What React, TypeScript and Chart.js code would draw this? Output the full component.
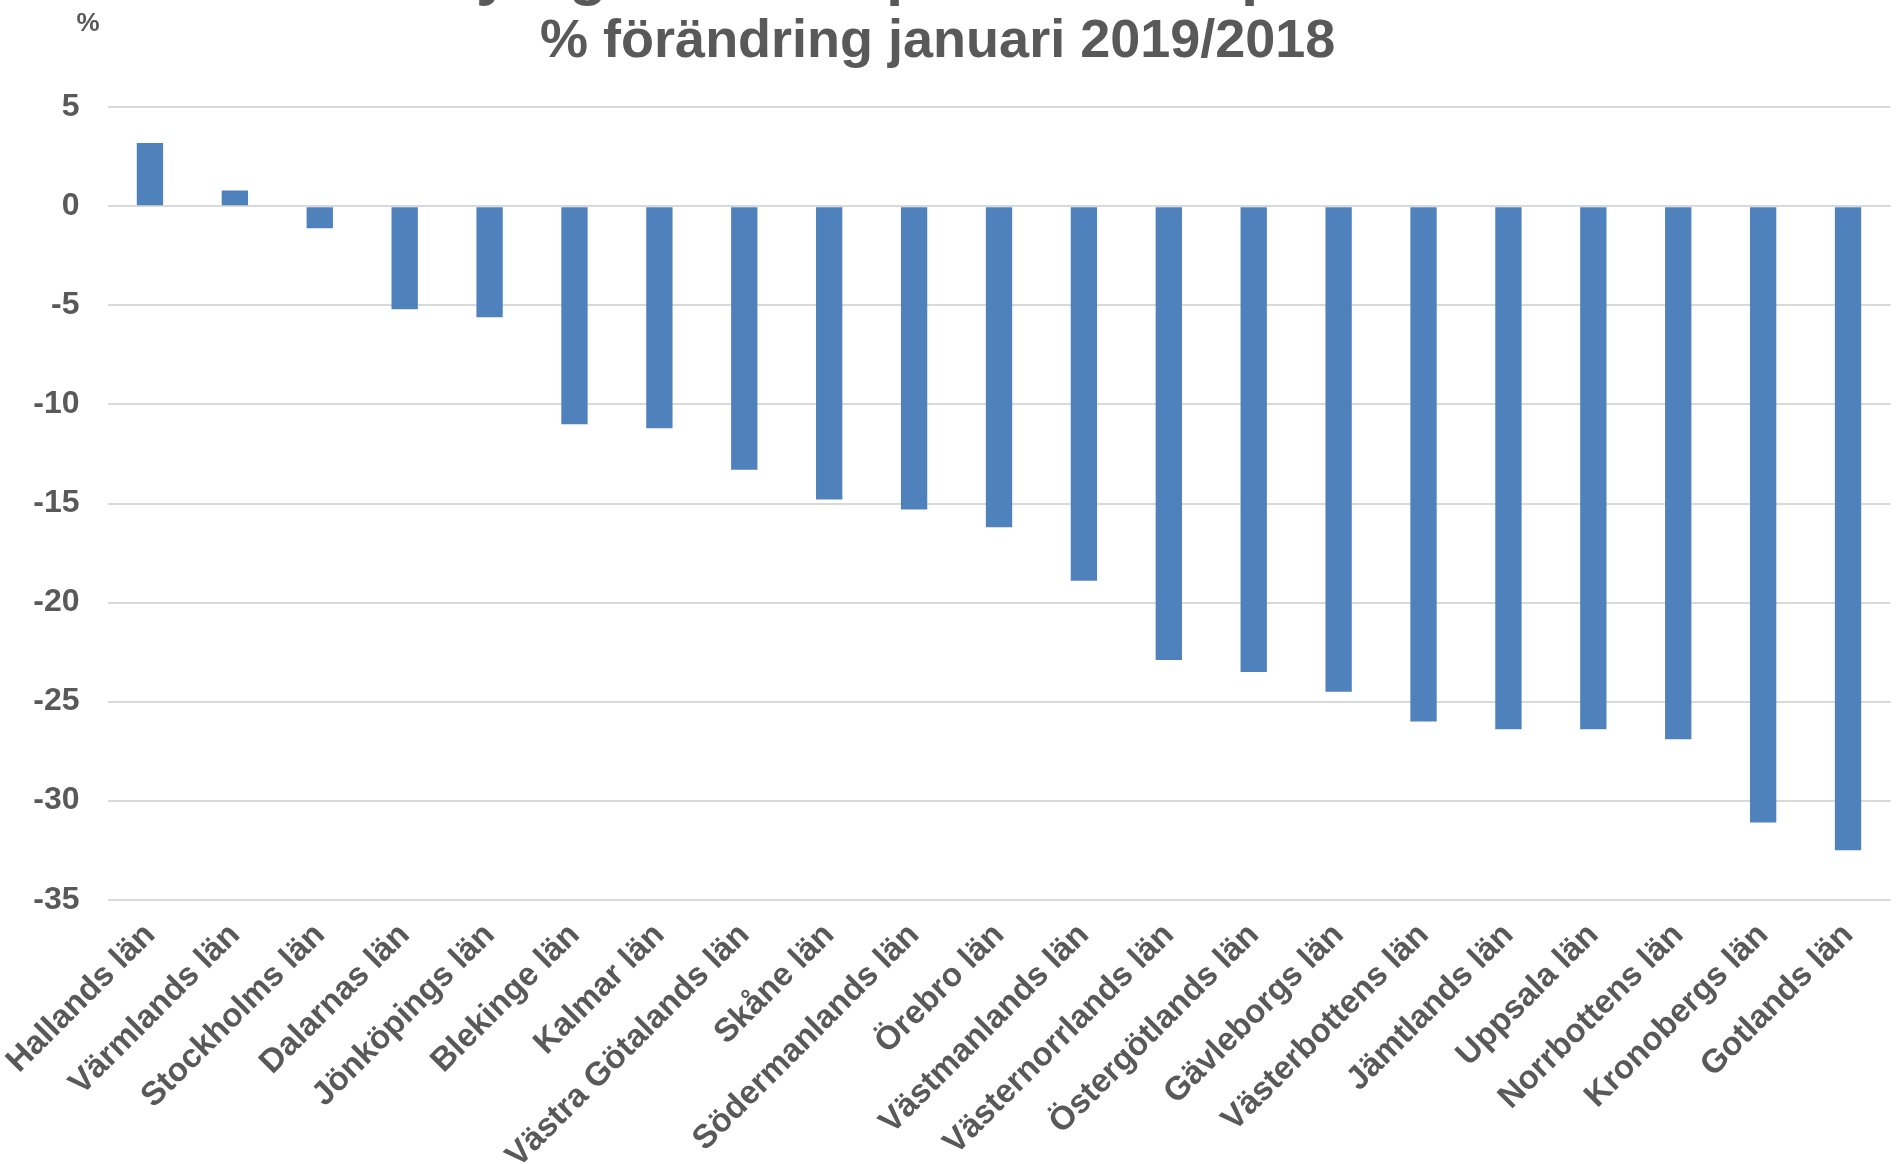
import React, { useEffect, useRef } from "react";
import { Chart, registerables } from "chart.js";

Chart.register(...registerables);

const categories = [
  "Hallands län",
  "Värmlands län",
  "Stockholms län",
  "Dalarnas län",
  "Jönköpings län",
  "Blekinge län",
  "Kalmar län",
  "Västra Götalands län",
  "Skåne län",
  "Södermanlands län",
  "Örebro län",
  "Västmanlands län",
  "Västernorrlands län",
  "Östergötlands län",
  "Gävleborgs län",
  "Västerbottens län",
  "Jämtlands län",
  "Uppsala län",
  "Norrbottens län",
  "Kronobergs län",
  "Gotlands län",
];

const changePct = [
  3.2, 0.8, -1.1, -5.2, -5.6, -11.0, -11.2, -13.3, -14.8, -15.3, -16.2, -18.9,
  -22.9, -23.5, -24.5, -26.0, -26.4, -26.4, -26.9, -31.1, -32.5,
];

const titleLine = "Nyregistrerade personbilar per län";
const subtitleLine = "% förändring januari 2019/2018";
const yUnit = "%";
const yMin = -35;
const yMax = 5;
const yStep = 5;

const FONT = "'Liberation Sans', Arial, sans-serif";
const TEXT = "#595959";

const OFF_X = 15;
const OFF_Y = 60;
const CW = 1912;
const CH = 1300;

export default function App() {
  const ref = useRef<HTMLCanvasElement | null>(null);

  useEffect(() => {
    if (!ref.current) return;
    const unitPlugin = {
      id: "unitLabel",
      afterDraw(chart: any) {
        const ctx = chart.ctx;
        ctx.save();
        ctx.font = `bold 26px ${FONT}`;
        ctx.fillStyle = TEXT;
        ctx.textAlign = "center";
        ctx.textBaseline = "middle";
        ctx.fillText(yUnit, 88 + OFF_X, 24 + OFF_Y);
        ctx.restore();
      },
    };
    const chart = new Chart(ref.current, {
      type: "bar",
      data: {
        labels: categories,
        datasets: [
          {
            data: changePct,
            backgroundColor: "#4F81BD",
            borderWidth: 0,
            categoryPercentage: 1,
            barPercentage: 0.31,
          },
        ],
      },
      plugins: [unitPlugin],
      options: {
        animation: false,
        responsive: false,
        devicePixelRatio: 1,
        layout: { padding: { left: 0, right: 6.5, top: 0, bottom: 0 } },
        plugins: {
          legend: { display: false },
          tooltip: { enabled: false },
          title: {
            display: true,
            text: titleLine,
            color: TEXT,
            font: { family: FONT, size: 62, weight: "bold", lineHeight: 1 },
            padding: { top: 4.5, bottom: 0 },
          },
          subtitle: {
            display: true,
            text: subtitleLine,
            color: TEXT,
            font: { family: FONT, size: 54, weight: "bold", lineHeight: 1 },
            padding: { top: 8.8, bottom: 38 },
          },
        },
        scales: {
          x: {
            grid: { display: false, drawTicks: false },
            border: { display: false },
            ticks: {
              autoSkip: false,
              maxRotation: 45,
              minRotation: 45,
              padding: 16,
              color: TEXT,
              font: { family: FONT, size: 33, weight: "bold" },
            },
            afterFit(scale: any) {
              scale.height = CH - (899.7 + OFF_Y);
            },
          },
          y: {
            min: yMin,
            max: yMax,
            grid: {
              color: "#D9D9D9",
              lineWidth: 2,
              drawTicks: false,
            },
            border: { display: false },
            ticks: {
              stepSize: yStep,
              padding: 28,
              color: TEXT,
              font: { family: FONT, size: 32, weight: "bold" },
            },
            afterFit(scale: any) {
              scale.width = 107.5 + OFF_X;
            },
          },
        },
      },
    });
    return () => chart.destroy();
  }, []);

  return (
    <div
      style={{
        position: "fixed",
        left: 0,
        top: 0,
        width: 1897,
        height: 1164,
        overflow: "hidden",
        background: "#ffffff",
      }}
    >
      <canvas
        ref={ref}
        width={CW}
        height={CH}
        style={{
          position: "absolute",
          left: -OFF_X,
          top: -OFF_Y,
          width: CW,
          height: CH,
        }}
      />
    </div>
  );
}
